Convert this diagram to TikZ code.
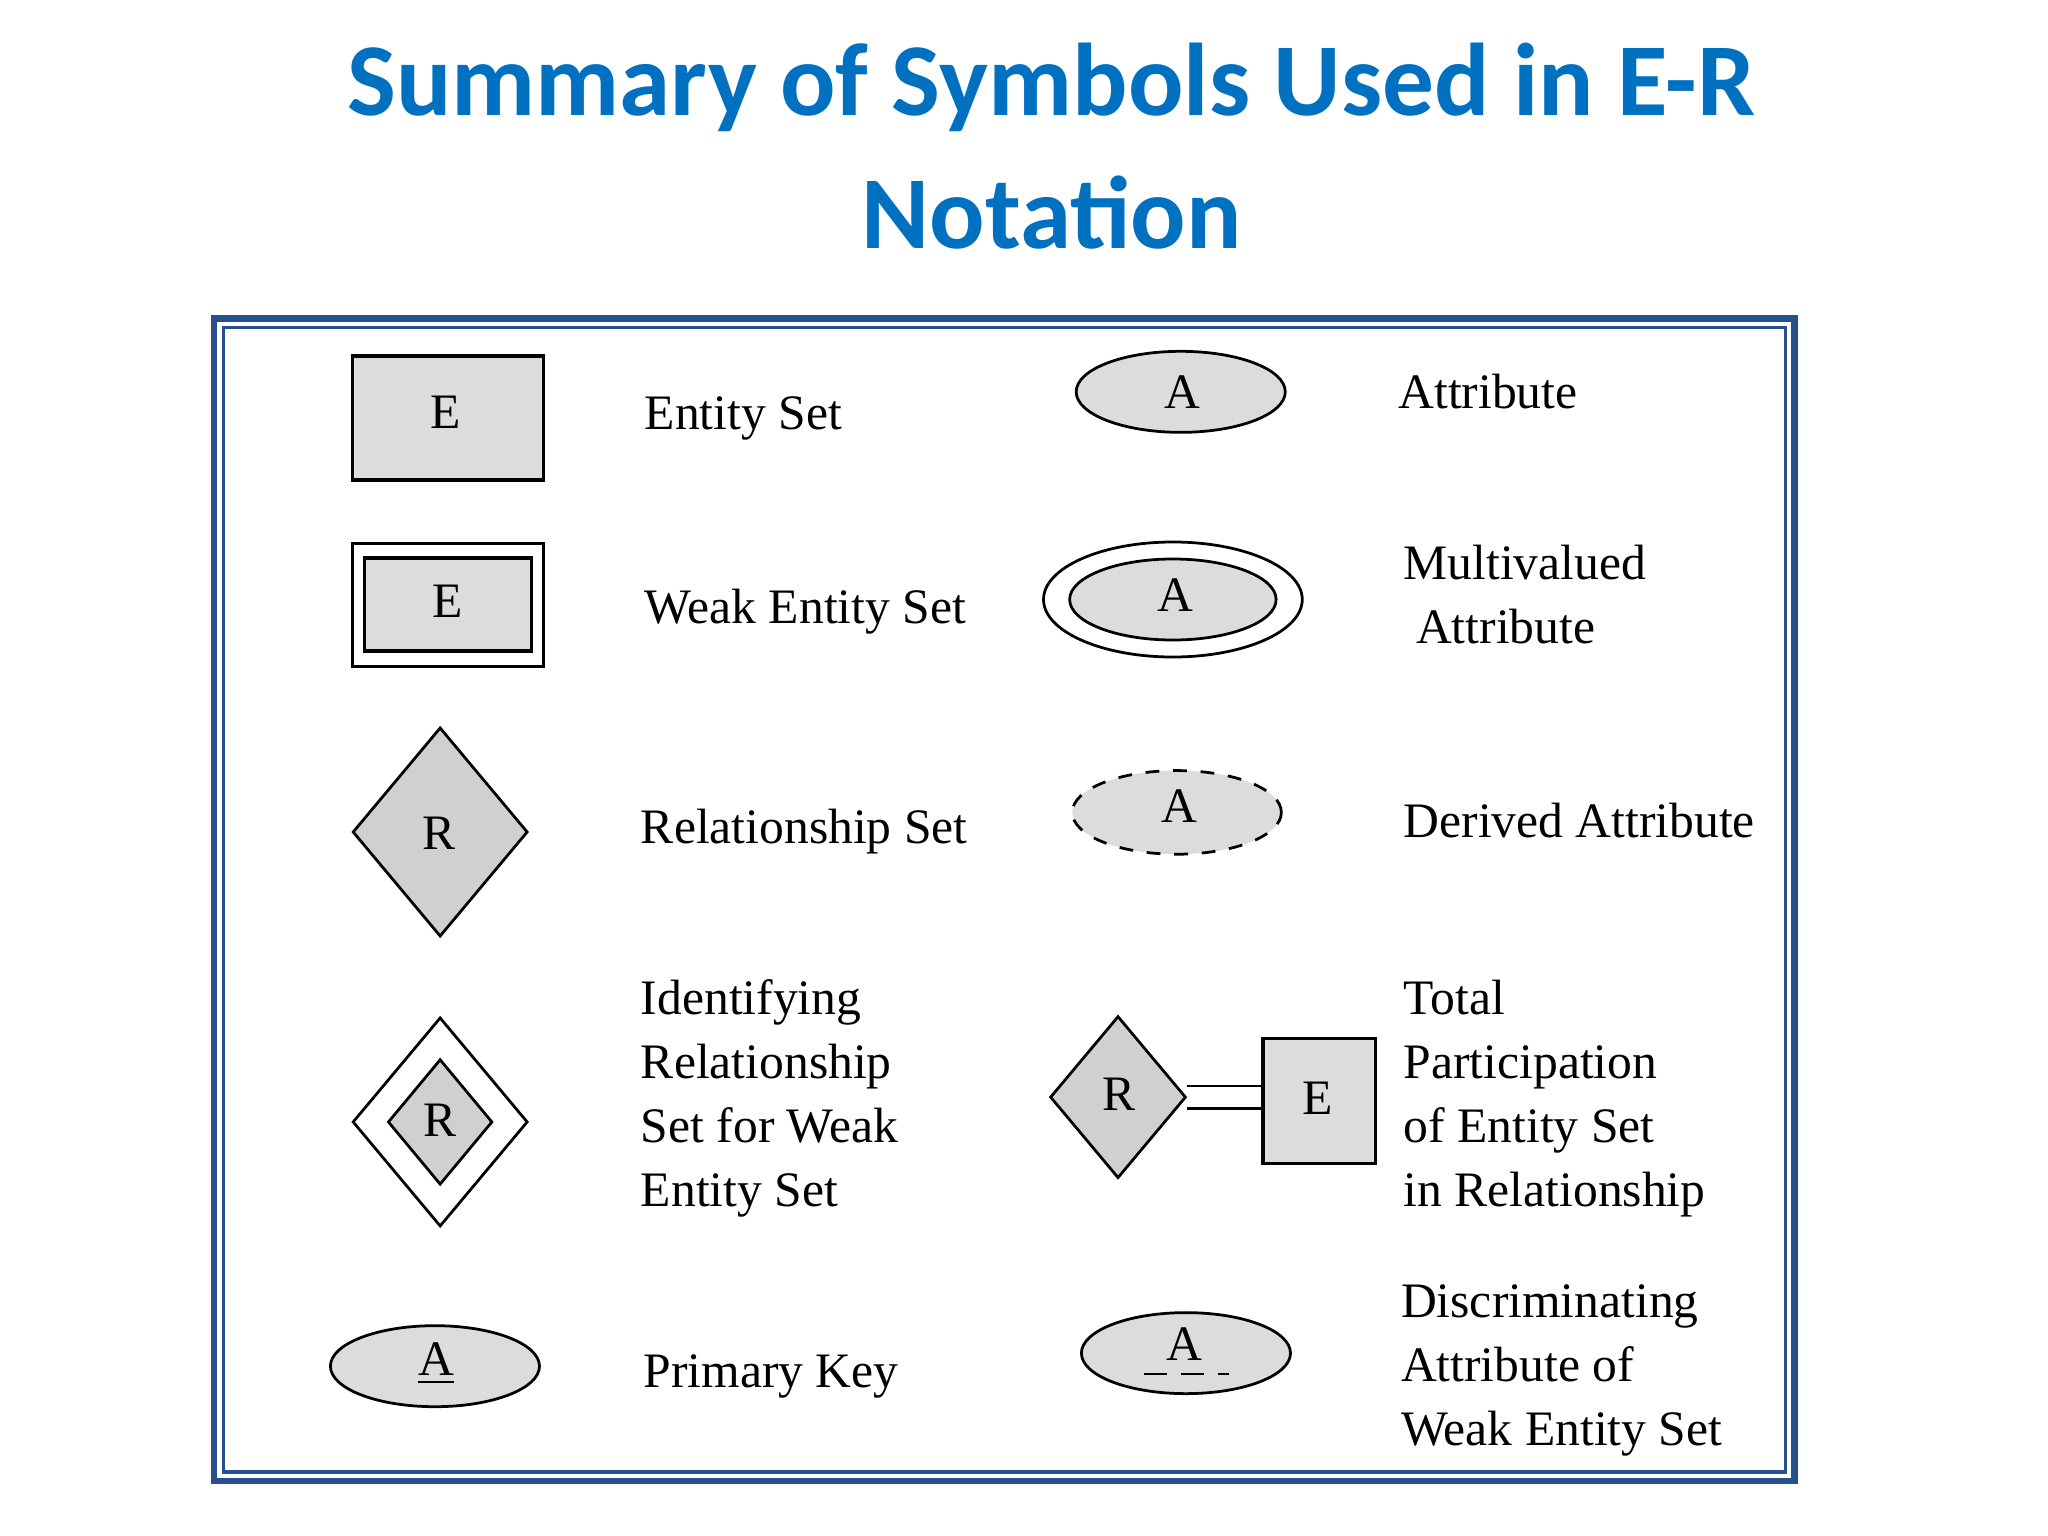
\documentclass[tikz,border=0pt]{standalone}
\usepackage{fontspec}
\setmainfont{Liberation Serif}
\newfontfamily\titlefont{Carlito}
\usetikzlibrary{shapes.geometric}
\definecolor{titleblue}{RGB}{0,112,192}
\definecolor{frameblue}{RGB}{40,80,140}
\definecolor{shapegray}{RGB}{220,219,222}
\definecolor{diagray}{RGB}{208,208,210}
\begin{document}
\begin{tikzpicture}[x=0.01cm,y=-0.01cm,
  lbl/.style={anchor=west,inner sep=0,font=\fontsize{10.8}{13.9}\selectfont,align=left},
  sym/.style={font=\fontsize{10.8}{13}\selectfont},
  ent/.style={draw,line width=0.8pt,fill=shapegray,inner sep=0},
  ell/.style={draw,ellipse,line width=0.6pt,fill=shapegray,inner sep=0},
  dia/.style={draw,diamond,line width=0.6pt,fill=diagray,inner sep=0,aspect=0.84}]
\useasboundingbox (0,0) rectangle (1568,1176);
\node[font=\titlefont\bfseries\fontsize{22.5}{29}\selectfont,text=titleblue,align=center] (title) at (805,112) {Summary of Symbols Used in E-R\\Notation};
% frame
\draw[frameblue,line width=1.4pt] (164,244) rectangle (1374,1134);
\draw[frameblue,line width=0.7pt] (171,251) rectangle (1367,1127);
% entity
\node[ent,minimum width=1.46cm,minimum height=0.95cm] (e1) at (343,320) {};
\node[sym] (e1t) at (341,316) {E};
% weak entity
\draw[line width=0.7pt] (270,416) rectangle (416,510);
\node[ent,minimum width=1.28cm,minimum height=0.71cm] (e2) at (343,463) {};
\node[sym] (e2t) at (343,460) {E};
% relationship
\node[dia,minimum width=1.34cm,minimum height=1.6cm] (r1) at (337,637) {};
\node[sym] (r1t) at (336,638) {R};
% identifying
\node[draw,diamond,line width=0.6pt,fill=white,inner sep=0,minimum width=1.34cm,minimum height=1.6cm] (r2o) at (337,859) {};
\node[dia,minimum width=0.8cm,minimum height=0.96cm] (r2) at (337,859) {};
\node[sym] (r2t) at (337,858) {R};
% primary key
\node[ell,minimum width=1.6cm,minimum height=0.62cm] (pk) at (333,1046) {};
\node[sym] (pkt) at (334,1044) {\underline{A}};
% attribute
\node[ell,minimum width=1.6cm,minimum height=0.62cm] (a1) at (904,300) {};
\node[sym] (a1t) at (905,300) {A};
% multivalued
\node[draw,ellipse,line width=0.6pt,fill=white,minimum width=1.98cm,minimum height=0.88cm] (a2o) at (898,459) {};
\node[ell,minimum width=1.58cm,minimum height=0.62cm] (a2) at (898,459) {};
\node[sym] (a2t) at (900,456) {A};
% derived
\node[ell,dashed,minimum width=1.6cm,minimum height=0.64cm] (a3) at (901,622) {};
\node[sym] (a3t) at (903,617) {A};
% total participation
\node[dia,minimum width=1.04cm,minimum height=1.24cm] (r3) at (856,840) {};
\node[sym] (r3t) at (857,838) {R};
\node[ent,line width=0.7pt,minimum width=0.86cm,minimum height=0.96cm] (e3) at (1010,843) {};
\node[sym] (e3t) at (1009,841) {E};
\draw[line width=0.5pt] ([yshift=-2.5pt]r3.east) -- ([yshift=-2.5pt]r3.east -| e3.west);
\draw[line width=0.5pt] ([yshift=2.5pt]r3.east) -- ([yshift=2.5pt]r3.east -| e3.west);
% discriminating
\node[ell,minimum width=1.6cm,minimum height=0.62cm] (a4) at (908,1036) {};
\node[sym] (a4t) at (907,1029) {A};
\coordinate (u1) at (876,1052); \coordinate (u2) at (941,1052);
\draw[line width=0.6pt,dash pattern=on 5pt off 3pt] (u1) -- (u2);
% labels
\node[lbl] (l1) at (493,320) {Entity Set};
\node[lbl] (l2) at (493,468) {Weak Entity Set};
\node[lbl] (l3) at (490,637) {Relationship Set};
\node[lbl] (l4) at (490,841) {Identifying\\Relationship\\Set for Weak\\Entity Set};
\node[lbl] (l5) at (492,1054) {Primary Key};
\node[lbl] (l6) at (1070,300) {Attribute};
\node[lbl] (l7) at (1074,455) {Multivalued\\\hspace*{0.25em}Attribute};
\node[lbl] (l8) at (1074,628) {Derived Attribute};
\node[lbl] (l9) at (1074,841) {Total\\Participation\\of Entity Set\\in Relationship};
\node[lbl] (l10) at (1072,1049) {Discriminating\\Attribute of\\Weak Entity Set};
\end{tikzpicture}
\end{document}
